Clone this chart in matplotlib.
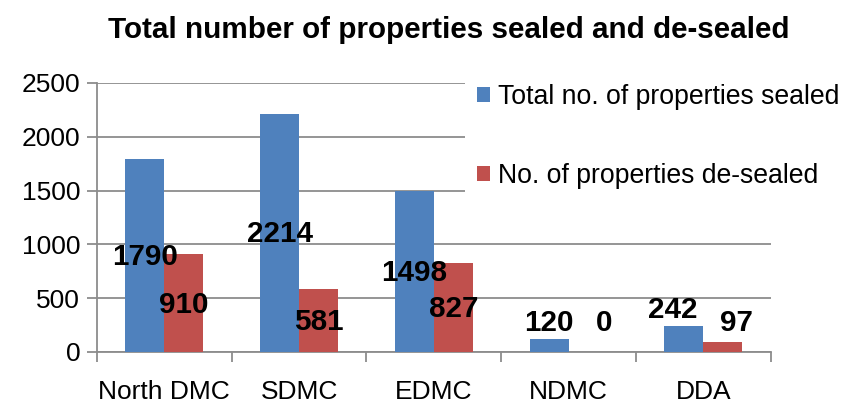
import matplotlib
matplotlib.use("Agg")
import matplotlib.pyplot as plt
import numpy as np

# ---------------------- 数据 ----------------------
categories = ["North DMC", "SDMC", "EDMC", "NDMC", "DDA"]
sealed = [1790, 2214, 1498, 120, 242]
desealed = [910, 581, 827, 0, 97]
series_names = ["Total no. of properties sealed", "No. of properties de-sealed"]

BLUE = "#4F81BD"
RED = "#C0504D"
GRID = "#8C8C8C"

plt.rcParams["font.family"] = ["Liberation Sans", "DejaVu Sans"]

fig = plt.figure(figsize=(8.47, 4.03), dpi=100)
ax = fig.add_axes([0.1145, 0.1266, 0.7955, 0.6675])

x = np.arange(len(categories))
w = 0.29
ax.bar(x - w / 2, sealed, w, color=BLUE, label=series_names[0], zorder=3)
ax.bar(x + w / 2, desealed, w, color=RED, label=series_names[1], zorder=3)

ax.set_xlim(-0.5, len(categories) - 0.5)
ax.set_ylim(0, 2500)
ax.set_yticks(np.arange(0, 2501, 500))
ax.yaxis.grid(True, color=GRID, linewidth=1.3, zorder=0)
ax.set_axisbelow(True)

# x 轴刻度在类别分界处，标签居中
ax.set_xticks(np.arange(-0.5, len(categories), 1.0))
ax.set_xticklabels([])
ax.set_xticks(x, minor=True)
ax.set_xticklabels(categories, minor=True, fontsize=19)
ax.tick_params(axis="x", which="minor", length=0, pad=20)
ax.tick_params(axis="x", which="major", length=7, width=1.3, color=GRID)
ax.tick_params(axis="y", length=7, width=1.3, color=GRID, labelsize=19, pad=5)

for s in ["top", "right"]:
    ax.spines[s].set_visible(False)
for s in ["left", "bottom"]:
    ax.spines[s].set_color(GRID)
    ax.spines[s].set_linewidth(1.3)

# 数据标签（Excel 居中样式，小柱子手动微调）
label_fix = {(0, 3): (0.0, 270), (1, 3): (0.12, 270), (0, 4): (-0.08, 390), (1, 4): (0.1, 270)}
for si, vals in enumerate([sealed, desealed]):
    for ci, v in enumerate(vals):
        xc = ci + (si - 0.5) * w
        dx, yv = label_fix.get((si, ci), (0.0, v / 2 - 15))
        ax.text(xc + dx, yv, str(v), ha="center", va="center",
                fontsize=21.3, fontweight="bold", color="black", zorder=5)

fig.text(0.53, 0.925, "Total number of properties sealed and de-sealed",
         ha="center", va="center", fontsize=21.3, fontweight="bold")

leg = ax.legend(loc="upper left", bbox_to_anchor=(0.546, 1.042), frameon=True,
                fontsize=19.2, handlelength=0.5, handleheight=0.5, handletextpad=0.3,
                labelspacing=2.0, borderaxespad=0, borderpad=0.45)
leg.get_frame().set_edgecolor("none")
leg.get_frame().set_facecolor("white")
leg.get_frame().set_alpha(1)

fig.savefig("out.png", dpi=100)
